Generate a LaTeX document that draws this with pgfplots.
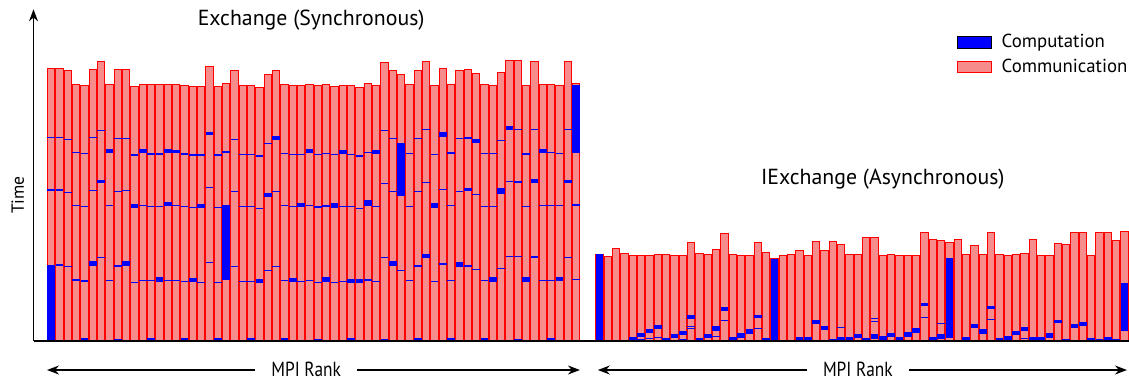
\documentclass[border=0pt]{standalone}
\usepackage{pgfplots}
\pgfplotsset{compat=1.18}
\usepackage{pgfplotstable}
\usetikzlibrary{arrows.meta}
\usepackage{fontspec}
\setmainfont{PT Sans}
\newfontfamily\condfont{PT Sans}[FakeStretch=0.85]
\definecolor{commfill}{RGB}{247,140,140}
\definecolor{commedge}{RGB}{255,0,0}
\definecolor{compblue}{RGB}{0,0,255}

% total height (time units) of each rank's bar, synchronous exchange
\pgfplotstableread{
rank top
0 818
1 817
2 811
3 771
4 768
5 816
6 838
7 770
8 814
9 814
10 763
11 770
12 769
13 769
14 770
15 770
16 767
17 764
18 764
19 824
20 763
21 772
22 811
23 767
24 767
25 762
26 799
27 811
28 770
29 767
30 767
31 769
32 766
33 769
34 764
35 767
36 766
37 762
38 772
39 767
40 837
41 813
42 799
43 769
44 813
45 838
46 766
47 819
48 769
49 812
50 814
51 802
52 769
53 766
54 806
55 841
56 841
57 766
58 839
59 769
60 770
61 767
62 838
63 772
}\syncTop

% total height of each rank's bar, asynchronous exchange
\pgfplotstableread{
rank top
0 260
1 254
2 278
3 262
4 257
5 257
6 257
7 261
8 260
9 258
10 257
11 296
12 262
13 260
14 275
15 324
16 260
17 258
18 258
19 296
20 266
21 247
22 257
23 260
24 272
25 257
26 298
27 271
28 298
29 290
30 259
31 260
32 310
33 312
34 258
35 260
36 257
37 257
38 256
39 325
40 305
41 303
42 297
43 305
44 260
45 288
46 260
47 326
48 260
49 257
50 260
51 263
52 305
53 257
54 257
55 292
56 289
57 325
58 325
59 256
60 326
61 326
62 302
63 329
}\asyncTop

% computation intervals (start, end) per rank, separated by nan
\pgfplotstableread[row sep=\\]{
rank t \\
0 0 \\ 0 228 \\ 0 nan \\ 0 451 \\ 0 455 \\ 0 nan \\ 0 609 \\ 0 613 \\ 0 nan \\
1 226 \\ 1 230 \\ 1 nan \\ 1 451 \\ 1 455 \\ 1 nan \\ 1 608 \\ 1 612 \\ 1 nan \\
2 221 \\ 2 225 \\ 2 nan \\ 2 444 \\ 2 448 \\ 2 nan \\ 2 603 \\ 2 607 \\ 2 nan \\
3 181 \\ 3 185 \\ 3 nan \\ 3 405 \\ 3 409 \\ 3 nan \\ 3 563 \\ 3 567 \\ 3 nan \\
4 0 \\ 4 10 \\ 4 nan \\ 4 178 \\ 4 182 \\ 4 nan \\ 4 402 \\ 4 406 \\ 4 nan \\ 4 560 \\ 4 564 \\ 4 nan \\
5 226 \\ 5 240 \\ 5 nan \\ 5 450 \\ 5 454 \\ 5 nan \\ 5 608 \\ 5 612 \\ 5 nan \\
6 248 \\ 6 252 \\ 6 nan \\ 6 473 \\ 6 483 \\ 6 nan \\ 6 630 \\ 6 634 \\ 6 nan \\
7 179 \\ 7 183 \\ 7 nan \\ 7 404 \\ 7 408 \\ 7 nan \\ 7 563 \\ 7 575 \\ 7 nan \\
8 0 \\ 8 6 \\ 8 nan \\ 8 223 \\ 8 227 \\ 8 nan \\ 8 447 \\ 8 451 \\ 8 nan \\ 8 605 \\ 8 609 \\ 8 nan \\
9 226 \\ 9 240 \\ 9 nan \\ 9 449 \\ 9 453 \\ 9 nan \\ 9 606 \\ 9 610 \\ 9 nan \\
10 174 \\ 10 178 \\ 10 nan \\ 10 399 \\ 10 412 \\ 10 nan \\ 10 556 \\ 10 560 \\ 10 nan \\
11 179 \\ 11 183 \\ 11 nan \\ 11 404 \\ 11 408 \\ 11 nan \\ 11 563 \\ 11 575 \\ 11 nan \\
12 0 \\ 12 8 \\ 12 nan \\ 12 179 \\ 12 183 \\ 12 nan \\ 12 402 \\ 12 406 \\ 12 nan \\ 12 559 \\ 12 563 \\ 12 nan \\
13 178 \\ 13 191 \\ 13 nan \\ 13 402 \\ 13 406 \\ 13 nan \\ 13 559 \\ 13 563 \\ 13 nan \\
14 180 \\ 14 184 \\ 14 nan \\ 14 404 \\ 14 418 \\ 14 nan \\ 14 563 \\ 14 575 \\ 14 nan \\
15 180 \\ 15 184 \\ 15 nan \\ 15 404 \\ 15 408 \\ 15 nan \\ 15 563 \\ 15 574 \\ 15 nan \\
16 0 \\ 16 10 \\ 16 nan \\ 16 177 \\ 16 181 \\ 16 nan \\ 16 401 \\ 16 405 \\ 16 nan \\ 16 559 \\ 16 563 \\ 16 nan \\
17 176 \\ 17 189 \\ 17 nan \\ 17 399 \\ 17 403 \\ 17 nan \\ 17 556 \\ 17 560 \\ 17 nan \\
18 174 \\ 18 178 \\ 18 nan \\ 18 399 \\ 18 412 \\ 18 nan \\ 18 556 \\ 18 560 \\ 18 nan \\
19 234 \\ 19 238 \\ 19 nan \\ 19 459 \\ 19 463 \\ 19 nan \\ 19 617 \\ 19 626 \\ 19 nan \\
20 0 \\ 20 8 \\ 20 nan \\ 20 174 \\ 20 178 \\ 20 nan \\ 20 398 \\ 20 402 \\ 20 nan \\ 20 556 \\ 20 560 \\ 20 nan \\
21 183 \\ 21 408 \\ 21 nan \\ 21 565 \\ 21 569 \\ 21 nan \\
22 221 \\ 22 225 \\ 22 nan \\ 22 446 \\ 22 450 \\ 22 nan \\ 22 603 \\ 22 607 \\ 22 nan \\
23 177 \\ 23 181 \\ 23 nan \\ 23 402 \\ 23 406 \\ 23 nan \\ 23 558 \\ 23 562 \\ 23 nan \\
24 0 \\ 24 10 \\ 24 nan \\ 24 176 \\ 24 180 \\ 24 nan \\ 24 402 \\ 24 406 \\ 24 nan \\ 24 558 \\ 24 562 \\ 24 nan \\
25 174 \\ 25 187 \\ 25 nan \\ 25 395 \\ 25 399 \\ 25 nan \\ 25 553 \\ 25 557 \\ 25 nan \\
26 209 \\ 26 213 \\ 26 nan \\ 26 433 \\ 26 444 \\ 26 nan \\ 26 590 \\ 26 594 \\ 26 nan \\
27 221 \\ 27 225 \\ 27 nan \\ 27 446 \\ 27 450 \\ 27 nan \\ 27 604 \\ 27 615 \\ 27 nan \\
28 0 \\ 28 8 \\ 28 nan \\ 28 179 \\ 28 183 \\ 28 nan \\ 28 404 \\ 28 408 \\ 28 nan \\ 28 561 \\ 28 565 \\ 28 nan \\
29 176 \\ 29 189 \\ 29 nan \\ 29 402 \\ 29 406 \\ 29 nan \\ 29 558 \\ 29 562 \\ 29 nan \\
30 177 \\ 30 181 \\ 30 nan \\ 30 401 \\ 30 413 \\ 30 nan \\ 30 558 \\ 30 562 \\ 30 nan \\
31 179 \\ 31 183 \\ 31 nan \\ 31 404 \\ 31 408 \\ 31 nan \\ 31 563 \\ 31 575 \\ 31 nan \\
32 0 \\ 32 7 \\ 32 nan \\ 32 174 \\ 32 178 \\ 32 nan \\ 32 400 \\ 32 404 \\ 32 nan \\ 32 557 \\ 32 561 \\ 32 nan \\
33 178 \\ 33 192 \\ 33 nan \\ 33 403 \\ 33 407 \\ 33 nan \\ 33 560 \\ 33 564 \\ 33 nan \\
34 174 \\ 34 178 \\ 34 nan \\ 34 400 \\ 34 413 \\ 34 nan \\ 34 557 \\ 34 561 \\ 34 nan \\
35 177 \\ 35 181 \\ 35 nan \\ 35 402 \\ 35 406 \\ 35 nan \\ 35 560 \\ 35 573 \\ 35 nan \\
36 0 \\ 36 10 \\ 36 nan \\ 36 173 \\ 36 185 \\ 36 nan \\ 36 402 \\ 36 406 \\ 36 nan \\ 36 558 \\ 36 562 \\ 36 nan \\
37 173 \\ 37 187 \\ 37 nan \\ 37 396 \\ 37 400 \\ 37 nan \\ 37 553 \\ 37 557 \\ 37 nan \\
38 181 \\ 38 185 \\ 38 nan \\ 38 406 \\ 38 423 \\ 38 nan \\ 38 563 \\ 38 567 \\ 38 nan \\
39 177 \\ 39 181 \\ 39 nan \\ 39 402 \\ 39 406 \\ 39 nan \\ 39 560 \\ 39 572 \\ 39 nan \\
40 0 \\ 40 6 \\ 40 nan \\ 40 248 \\ 40 252 \\ 40 nan \\ 40 471 \\ 40 475 \\ 40 nan \\ 40 630 \\ 40 634 \\ 40 nan \\
41 225 \\ 41 241 \\ 41 nan \\ 41 447 \\ 41 451 \\ 41 nan \\ 41 605 \\ 41 609 \\ 41 nan \\
42 210 \\ 42 214 \\ 42 nan \\ 42 436 \\ 42 595 \\ 42 nan \\
43 179 \\ 43 183 \\ 43 nan \\ 43 402 \\ 43 406 \\ 43 nan \\ 43 560 \\ 43 564 \\ 43 nan \\
44 0 \\ 44 8 \\ 44 nan \\ 44 223 \\ 44 227 \\ 44 nan \\ 44 447 \\ 44 451 \\ 44 nan \\ 44 605 \\ 44 609 \\ 44 nan \\
45 250 \\ 45 261 \\ 45 nan \\ 45 474 \\ 45 478 \\ 45 nan \\ 45 632 \\ 45 636 \\ 45 nan \\
46 177 \\ 46 181 \\ 46 nan \\ 46 400 \\ 46 415 \\ 46 nan \\ 46 558 \\ 46 562 \\ 46 nan \\
47 229 \\ 47 233 \\ 47 nan \\ 47 453 \\ 47 457 \\ 47 nan \\ 47 612 \\ 47 628 \\ 47 nan \\
48 0 \\ 48 8 \\ 48 nan \\ 48 179 \\ 48 183 \\ 48 nan \\ 48 404 \\ 48 408 \\ 48 nan \\ 48 562 \\ 48 566 \\ 48 nan \\
49 223 \\ 49 236 \\ 49 nan \\ 49 447 \\ 49 451 \\ 49 nan \\ 49 605 \\ 49 609 \\ 49 nan \\
50 223 \\ 50 227 \\ 50 nan \\ 50 449 \\ 50 459 \\ 50 nan \\ 50 607 \\ 50 611 \\ 50 nan \\
51 212 \\ 51 216 \\ 51 nan \\ 51 437 \\ 51 441 \\ 51 nan \\ 51 595 \\ 51 606 \\ 51 nan \\
52 0 \\ 52 8 \\ 52 nan \\ 52 179 \\ 52 183 \\ 52 nan \\ 52 402 \\ 52 406 \\ 52 nan \\ 52 560 \\ 52 564 \\ 52 nan \\
53 177 \\ 53 191 \\ 53 nan \\ 53 401 \\ 53 405 \\ 53 nan \\ 53 560 \\ 53 564 \\ 53 nan \\
54 216 \\ 54 220 \\ 54 nan \\ 54 441 \\ 54 460 \\ 54 nan \\ 54 599 \\ 54 603 \\ 54 nan \\
55 251 \\ 55 255 \\ 55 nan \\ 55 476 \\ 55 480 \\ 55 nan \\ 55 634 \\ 55 645 \\ 55 nan \\
56 0 \\ 56 6 \\ 56 nan \\ 56 251 \\ 56 255 \\ 56 nan \\ 56 475 \\ 56 479 \\ 56 nan \\ 56 633 \\ 56 637 \\ 56 nan \\
57 177 \\ 57 191 \\ 57 nan \\ 57 401 \\ 57 405 \\ 57 nan \\ 57 559 \\ 57 563 \\ 57 nan \\
58 250 \\ 58 254 \\ 58 nan \\ 58 474 \\ 58 485 \\ 58 nan \\ 58 632 \\ 58 636 \\ 58 nan \\
59 179 \\ 59 183 \\ 59 nan \\ 59 404 \\ 59 408 \\ 59 nan \\ 59 563 \\ 59 576 \\ 59 nan \\
60 0 \\ 60 8 \\ 60 nan \\ 60 180 \\ 60 184 \\ 60 nan \\ 60 404 \\ 60 408 \\ 60 nan \\ 60 563 \\ 60 567 \\ 60 nan \\
61 179 \\ 61 192 \\ 61 nan \\ 61 404 \\ 61 408 \\ 61 nan \\ 61 561 \\ 61 565 \\ 61 nan \\
62 249 \\ 62 253 \\ 62 nan \\ 62 474 \\ 62 484 \\ 62 nan \\ 62 632 \\ 62 636 \\ 62 nan \\
63 182 \\ 63 186 \\ 63 nan \\ 63 406 \\ 63 410 \\ 63 nan \\ 63 565 \\ 63 767 \\ 63 nan \\
}\syncComp

\pgfplotstableread[row sep=\\]{
rank t \\
0 0 \\ 0 260 \\ 0 nan \\
4 0 \\ 4 13 \\ 4 nan \\
5 4 \\ 5 6 \\ 5 nan \\ 5 11 \\ 5 24 \\ 5 nan \\
6 7 \\ 6 9 \\ 6 nan \\ 6 24 \\ 6 37 \\ 6 nan \\
7 10 \\ 7 12 \\ 7 nan \\ 7 37 \\ 7 49 \\ 7 nan \\
8 0 \\ 8 10 \\ 8 nan \\
9 8 \\ 9 21 \\ 9 nan \\
10 4 \\ 10 6 \\ 10 nan \\ 10 18 \\ 10 31 \\ 10 nan \\
11 35 \\ 11 39 \\ 11 nan \\ 11 41 \\ 11 45 \\ 11 nan \\ 11 67 \\ 11 78 \\ 11 nan \\
12 0 \\ 12 9 \\ 12 nan \\
13 8 \\ 13 20 \\ 13 nan \\
14 13 \\ 14 15 \\ 14 nan \\ 14 31 \\ 14 45 \\ 14 nan \\
15 62 \\ 15 64 \\ 15 nan \\ 15 91 \\ 15 102 \\ 15 nan \\
16 0 \\ 16 12 \\ 16 nan \\
17 10 \\ 17 24 \\ 17 nan \\
18 21 \\ 18 35 \\ 18 nan \\
19 36 \\ 19 38 \\ 19 nan \\ 19 69 \\ 19 79 \\ 19 nan \\
20 0 \\ 20 8 \\ 20 nan \\
21 0 \\ 21 247 \\ 21 nan \\
24 0 \\ 24 11 \\ 24 nan \\
25 0 \\ 25 13 \\ 25 nan \\
26 52 \\ 26 63 \\ 26 nan \\
27 33 \\ 27 44 \\ 27 nan \\
28 0 \\ 28 6 \\ 28 nan \\
29 0 \\ 29 11 \\ 29 nan \\ 29 39 \\ 29 41 \\ 29 nan \\
30 0 \\ 30 11 \\ 30 nan \\
31 9 \\ 31 21 \\ 31 nan \\
32 0 \\ 32 8 \\ 32 nan \\
33 7 \\ 33 21 \\ 33 nan \\ 33 59 \\ 33 61 \\ 33 nan \\ 33 66 \\ 33 68 \\ 33 nan \\
34 0 \\ 34 15 \\ 34 nan \\
35 13 \\ 35 25 \\ 35 nan \\
36 0 \\ 36 13 \\ 36 nan \\
37 12 \\ 37 26 \\ 37 nan \\
38 2 \\ 38 4 \\ 38 nan \\ 38 24 \\ 38 38 \\ 38 nan \\
39 69 \\ 39 71 \\ 39 nan \\ 39 105 \\ 39 113 \\ 39 nan \\
40 0 \\ 40 11 \\ 40 nan \\
41 7 \\ 41 21 \\ 41 nan \\ 41 51 \\ 41 53 \\ 41 nan \\
42 10 \\ 42 248 \\ 42 nan \\
44 0 \\ 44 11 \\ 44 nan \\
45 38 \\ 45 51 \\ 45 nan \\
46 21 \\ 46 35 \\ 46 nan \\
47 63 \\ 47 65 \\ 47 nan \\ 47 97 \\ 47 105 \\ 47 nan \\
48 0 \\ 48 10 \\ 48 nan \\
49 4 \\ 49 16 \\ 49 nan \\
50 17 \\ 50 30 \\ 50 nan \\
51 6 \\ 51 8 \\ 51 nan \\ 51 30 \\ 51 42 \\ 51 nan \\
52 0 \\ 52 11 \\ 52 nan \\
53 0 \\ 53 12 \\ 53 nan \\
54 9 \\ 54 23 \\ 54 nan \\
55 55 \\ 55 64 \\ 55 nan \\
56 0 \\ 56 6 \\ 56 nan \\
57 40 \\ 57 51 \\ 57 nan \\
58 46 \\ 58 57 \\ 58 nan \\
59 0 \\ 59 10 \\ 59 nan \\
60 0 \\ 60 6 \\ 60 nan \\
61 2 \\ 61 13 \\ 61 nan \\
62 0 \\ 62 6 \\ 62 nan \\
63 30 \\ 63 174 \\ 63 nan \\
}\asyncComp

\begin{document}
\begin{tikzpicture}
\begin{axis}[
  x=4.1667pt, y=0.16667pt,
  xmin=-6.14, xmax=129.34, ymin=-114, ymax=1023,
  axis lines=none, xtick=\empty, ytick=\empty,
  clip=false,
  legend style={at={(axis cs:108.65,934)}, anchor=north west, draw=none, fill=none,
    inner sep=0pt, font=\fontsize{9.4}{10}\selectfont, row sep=0.2pt,
    nodes={inner xsep=4.8pt}},
  legend cell align=left,
]
\path (rel axis cs:0,0) rectangle (rel axis cs:1,1);
% communication bars (full height)
\addplot[ybar, bar width=3.55pt, bar shift=0pt, fill=commfill, draw=commedge, line width=0.5pt, forget plot]
  table[x=rank, y=top] {\syncTop};
\addplot[ybar, bar width=3.55pt, bar shift=0pt, fill=commfill, draw=commedge, line width=0.5pt, forget plot]
  table[x expr=\thisrow{rank}+65.8, y=top] {\asyncTop};
% computation intervals
\addplot[compblue, line width=3.8pt, line cap=butt, unbounded coords=jump, mark=none, forget plot]
  table[x=rank, y=t] {\syncComp};
\addplot[compblue, line width=3.8pt, line cap=butt, unbounded coords=jump, mark=none, forget plot]
  table[x expr=\thisrow{rank}+65.8, y=t] {\asyncComp};

\addlegendimage{area legend, fill=compblue, draw=none}
\addlegendentry{Computation}
\addlegendimage{area legend, fill=commfill, draw=commedge, line width=0.5pt}
\addlegendentry{Communication}

% axes
\draw[line width=0.7pt] (axis cs:-2.12,0) -- (axis cs:129.34,0);
\draw[line width=0.7pt, -{Stealth[length=6pt,width=4.5pt]}] (axis cs:-2.12,0) -- (axis cs:-2.12,995);
\node[rotate=90, font=\fontsize{8.8}{10}\selectfont] at (axis cs:-4.0,438) {Time};
% titles
\node[font=\fontsize{10.9}{12}\selectfont] at (axis cs:31.2,963) {Exchange (Synchronous)};
\node[font=\fontsize{10.9}{12}\selectfont] at (axis cs:99.8,486) {IExchange (Asynchronous)};
% rank arrows
\draw[line width=0.75pt, {Stealth[length=6pt,width=4.5pt]}-{Stealth[length=6pt,width=4.5pt]}] (axis cs:-0.5,-87) -- (axis cs:63.45,-87);
\node[fill=white, anchor=base, inner xsep=8pt, inner ysep=0.4pt, text depth=0pt, font=\condfont\fontsize{10.2}{11}\selectfont] at (axis cs:30.6,-106) {MPI Rank};
\draw[line width=0.75pt, {Stealth[length=6pt,width=4.5pt]}-{Stealth[length=6pt,width=4.5pt]}] (axis cs:65.6,-87) -- (axis cs:129.1,-87);
\node[fill=white, anchor=base, inner xsep=8pt, inner ysep=0.4pt, text depth=0pt, font=\condfont\fontsize{10.2}{11}\selectfont] at (axis cs:96.8,-106) {MPI Rank};
\end{axis}
\pgfresetboundingbox
\path[use as bounding box] (current axis.south west) rectangle (current axis.north east);
\end{tikzpicture}
\end{document}
